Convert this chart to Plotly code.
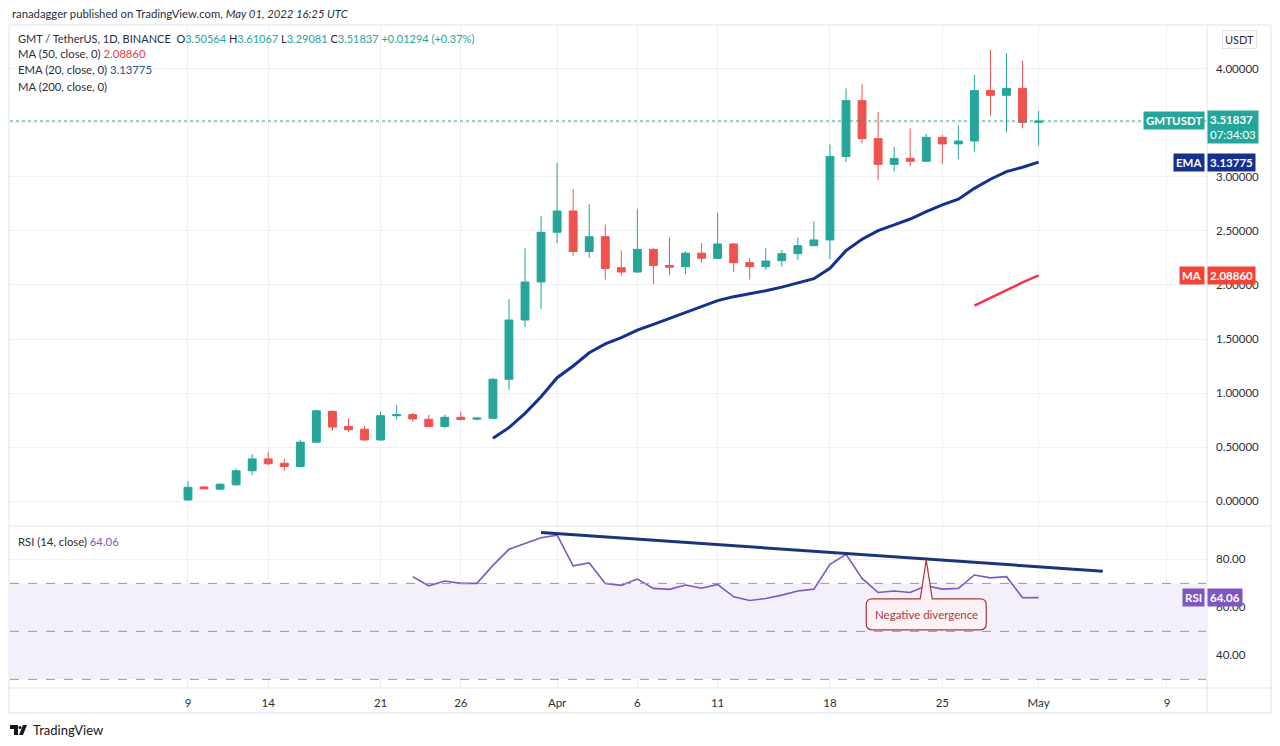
import pandas as pd
import plotly.graph_objects as go

# daily candles, GMT/USDT (Binance), 9 Mar - 1 May 2022
dates = pd.date_range("2022-03-09", "2022-05-01", freq="D")

opens = [0.01, 0.13, 0.11, 0.15, 0.28, 0.39, 0.35, 0.32, 0.545, 0.83, 0.69, 0.665,
         0.565, 0.79, 0.80, 0.757, 0.69, 0.775, 0.758, 0.766, 1.127, 1.676, 2.028,
         2.488, 2.685, 2.31, 2.447, 2.16, 2.12, 2.33, 2.18, 2.17, 2.295, 2.247, 2.38,
         2.207, 2.17, 2.225, 2.29, 2.364, 2.417, 3.19, 3.707, 3.355, 3.117, 3.173,
         3.145, 3.367, 3.306, 3.333, 3.80, 3.756, 3.82, 3.50564]
highs = [0.185, 0.14, 0.165, 0.30, 0.435, 0.457, 0.39, 0.565, 0.845, 0.84, 0.765, 0.695,
         0.83, 0.89, 0.815, 0.796, 0.80, 0.827, 0.78, 1.135, 1.868, 2.34, 2.64,
         3.13, 2.89, 2.75, 2.56, 2.32, 2.707, 2.34, 2.44, 2.31, 2.386, 2.67, 2.39,
         2.25, 2.34, 2.325, 2.44, 2.59, 3.30, 3.82, 3.86, 3.60, 3.28, 3.45,
         3.40, 3.39, 3.48, 3.947, 4.18, 4.145, 4.074, 3.61067]
lows = [0.0, 0.11, 0.10, 0.14, 0.24, 0.33, 0.28, 0.31, 0.54, 0.65, 0.64, 0.56,
        0.56, 0.755, 0.735, 0.685, 0.675, 0.745, 0.745, 0.76, 1.03, 1.61, 1.775,
        2.386, 2.27, 2.25, 2.05, 2.085, 2.11, 2.01, 2.09, 2.10, 2.207, 2.24, 2.12,
        2.05, 2.14, 2.17, 2.23, 2.36, 2.24, 3.136, 3.31, 2.97, 3.05, 3.10,
        3.14, 3.12, 3.164, 3.234, 3.565, 3.414, 3.45, 3.29081]
closes = [0.127, 0.112, 0.155, 0.28, 0.39, 0.345, 0.32, 0.545, 0.835, 0.685, 0.66, 0.565,
          0.79, 0.80, 0.76, 0.69, 0.775, 0.755, 0.768, 1.127, 1.676, 2.028, 2.488,
          2.685, 2.31, 2.447, 2.154, 2.12, 2.33, 2.18, 2.165, 2.295, 2.247, 2.38, 2.207,
          2.17, 2.222, 2.29, 2.364, 2.417, 3.19, 3.707, 3.355, 3.117, 3.17, 3.145,
          3.367, 3.306, 3.333, 3.80, 3.756, 3.82, 3.505, 3.51837]

ema_dates = dates[19:]  # EMA 20 from 28 Mar
ema20 = [0.58, 0.679, 0.812, 0.966, 1.142, 1.25, 1.373, 1.454, 1.512, 1.583, 1.636,
         1.691, 1.747, 1.799, 1.855, 1.892, 1.917, 1.947, 1.98, 2.021, 2.058, 2.154,
         2.318, 2.423, 2.503, 2.556, 2.611, 2.679, 2.741, 2.794, 2.895, 2.979, 3.05,
         3.09, 3.13775]

ma_dates = dates[49:]  # MA 50 from 27 Apr
ma50 = [1.81, 1.883, 1.957, 2.024, 2.0886]

rsi_dates = dates[14:]  # RSI 14 from 23 Mar
rsi = [72.8, 69.0, 71.0, 70.0, 70.0, 77.5, 84.2, 86.7, 89.0, 90.1, 77.3, 78.5, 70.0,
       69.2, 71.8, 67.9, 67.5, 69.3, 68.0, 69.6, 64.4, 62.9, 63.7, 65.1, 66.8, 67.6,
       77.9, 82.1, 72.1, 66.2, 66.8, 66.2, 69.0, 67.6, 67.9, 73.5, 72.3, 72.8, 64.0,
       64.06]

# hand drawn trendline on the RSI
trend_dates = ["2022-03-31", "2022-05-05"]
trend_vals = [91.2, 75.1]
divergence_date = "2022-04-24"
divergence_peak = 79.8

tick_dates = ["2022-03-09", "2022-03-14", "2022-03-21", "2022-03-26", "2022-04-01",
              "2022-04-06", "2022-04-11", "2022-04-18", "2022-04-25", "2022-05-01",
              "2022-05-09"]
tick_text = ["9", "14", "21", "26", "Apr", "6", "11", "18", "25", "May", "9"]
price_ticks = [0, 0.5, 1.0, 1.5, 2.0, 2.5, 3.0, 3.5, 4.0]
price_text = ["0.00000", "0.50000", "1.00000", "1.50000", "2.00000", "2.50000",
              "3.00000", "", "4.00000"]  # 3.5 sits under the price tag

UP = "#26a69a"
DOWN = "#ef5350"
EMA_C = "#15308f"
MA_C = "#f23645"
RSI_C = "#7e57c2"
GRID = "#eef0f4"
BORDER = "#e0e3eb"
TXT = "#2a2e39"
FONT = "Lato"

# page body has an 8px margin, so the figure is drawn 8px in from the corner
OFF = 8
W, H = 1264, 730
ML, MR, MT, MB = 2, 66, 17, 50
PW, PH = W - ML - MR, H - MT - MB

x_range = ["2022-02-25 21:50", "2022-05-11 10:20"]
price_range = [-0.222, 4.407]
rsi_range = [26.4, 93.5]


# helpers take positions in screen pixels
def px_x(p):
    return (p - OFF - ML) / PW


def px_y(p):
    return (H - MB - (p - OFF)) / PH


main_dom = [px_y(525), 1]
rsi_dom = [0, px_y(527)]


def date_px(d):
    t0 = pd.Timestamp(x_range[0]).value
    t1 = pd.Timestamp(x_range[1]).value
    return OFF + ML + (pd.Timestamp(d).value - t0) / (t1 - t0) * PW


def rsi_px(v):
    return 527 + (rsi_range[1] - v) / (rsi_range[1] - rsi_range[0]) * (688 - 527)


fig = go.Figure()

fig.add_trace(go.Candlestick(
    x=dates, open=opens, high=highs, low=lows, close=closes,
    increasing=dict(line=dict(color=UP, width=1), fillcolor=UP),
    decreasing=dict(line=dict(color=DOWN, width=1), fillcolor=DOWN),
    xaxis="x", yaxis="y", showlegend=False))
fig.add_trace(go.Scatter(x=ema_dates, y=ema20, mode="lines",
                         line=dict(color=EMA_C, width=3), xaxis="x", yaxis="y",
                         showlegend=False))
fig.add_trace(go.Scatter(x=ma_dates, y=ma50, mode="lines",
                         line=dict(color=MA_C, width=2.5), xaxis="x", yaxis="y",
                         showlegend=False))
fig.add_trace(go.Scatter(x=rsi_dates, y=rsi, mode="lines",
                         line=dict(color=RSI_C, width=1.6), xaxis="x2", yaxis="y2",
                         showlegend=False))
fig.add_trace(go.Scatter(x=trend_dates, y=trend_vals, mode="lines",
                         line=dict(color="#1b3678", width=3), xaxis="x2", yaxis="y2",
                         showlegend=False))

shapes = []
# RSI band + levels
shapes.append(dict(type="rect", xref="x2 domain", yref="y2", x0=0, x1=1, y0=30, y1=70,
                   fillcolor="rgba(126,87,194,0.09)", line=dict(width=0), layer="below"))
for lvl in [70, 50, 30]:
    shapes.append(dict(type="line", xref="x2 domain", yref="y2", x0=0, x1=1, y0=lvl, y1=lvl,
                       line=dict(color="#9598a1", width=1, dash="dash")))
# last price dotted line
shapes.append(dict(type="line", xref="x domain", yref="y", x0=0, x1=1,
                   y0=closes[-1], y1=closes[-1], line=dict(color=UP, width=1, dash="dot")))
# frame
shapes.append(dict(type="rect", xref="paper", yref="paper", x0=px_x(9), x1=px_x(1271),
                   y0=px_y(713), y1=px_y(25), line=dict(color=BORDER, width=1)))
shapes.append(dict(type="line", xref="paper", yref="paper", x0=px_x(1207), x1=px_x(1207),
                   y0=px_y(713), y1=px_y(25), line=dict(color=BORDER, width=1)))
for yy in [526, 688]:
    shapes.append(dict(type="line", xref="paper", yref="paper", x0=px_x(9), x1=px_x(1271),
                       y0=px_y(yy), y1=px_y(yy), line=dict(color=BORDER, width=1)))

# callout for the negative divergence
ax_, ay_ = date_px(divergence_date), rsi_px(divergence_peak)
bl, br, bt, bb, r = ax_ - 60, ax_ + 60, ay_ + 39, ay_ + 70, 6


def P(x, y):
    return f"{px_x(x):.5f},{px_y(y):.5f}"


path = (f"M {P(bl + r, bt)} L {P(ax_ - 6, bt)} L {P(ax_, ay_)} L {P(ax_ + 6, bt)} "
        f"L {P(br - r, bt)} Q {P(br, bt)} {P(br, bt + r)} L {P(br, bb - r)} "
        f"Q {P(br, bb)} {P(br - r, bb)} L {P(bl + r, bb)} Q {P(bl, bb)} {P(bl, bb - r)} "
        f"L {P(bl, bt + r)} Q {P(bl, bt)} {P(bl + r, bt)} Z")
shapes.append(dict(type="path", xref="paper", yref="paper", path=path,
                   fillcolor="rgba(253,242,244,0.92)", line=dict(color="#a83a3f", width=1.2)))

# TradingView logo glyph
shapes.append(dict(type="path", xref="paper", yref="paper",
                   path=f"M {P(10,725)} L {P(18,725)} L {P(18,735)} L {P(14,735)} L {P(14,729)} L {P(10,729)} Z",
                   fillcolor="#131722", line=dict(width=0)))
shapes.append(dict(type="circle", xref="paper", yref="paper", x0=px_x(18.5), x1=px_x(21.5),
                   y0=px_y(729), y1=px_y(726), fillcolor="#131722", line=dict(width=0)))
shapes.append(dict(type="path", xref="paper", yref="paper",
                   path=f"M {P(23,725)} L {P(27,725)} L {P(23,735)} L {P(19,735)} Z",
                   fillcolor="#131722", line=dict(width=0)))

ann = []


def text(x, y, s, size=11.3, color=TXT, xanchor="left"):
    ann.append(dict(xref="paper", yref="paper", x=px_x(x), y=px_y(y), text=s, showarrow=False,
                    xanchor=xanchor, yanchor="middle", font=dict(family=FONT, size=size, color=color)))


def span(s, c):
    return f"<span style='color:{c}'>{s}</span>"


text(10, 13, "ranadagger published on TradingView.com, <i>May 01, 2022 16:25 UTC</i>")
text(16, 38, "GMT / TetherUS, 1D, BINANCE  O" + span("3.50564", UP) + " H" + span("3.61067", UP)
     + " L" + span("3.29081", UP) + " C" + span("3.51837", UP) + " " + span("+0.01294 (+0.37%)", UP),
     size=11)
text(16, 54, "MA (50, close, 0) " + span("2.08860", MA_C))
text(16, 70, "EMA (20, close, 0) " + span("3.13775", "#2a4ba0"))
text(16, 86, "MA (200, close, 0)")
text(16, 541, "RSI (14, close) " + span("64.06", RSI_C))
text(31, 730, "TradingView", size=13, color="#131722")


def tag(yref, y, s, bg, xanchor, x, yshift=0):
    ann.append(dict(xref="paper", yref=yref, x=px_x(x), y=y, text=s, showarrow=False,
                    xanchor=xanchor, yanchor="middle", yshift=yshift, bgcolor=bg,
                    borderpad=2, align="left",
                    font=dict(family=FONT, size=11.5, color="white")))


tag("y", closes[-1], "<b>GMTUSDT</b>", UP, "right", 1205)
tag("y", closes[-1], "<b>3.51837</b><br>07:34:03", UP, "left", 1207, yshift=-6)
tag("y", ema20[-1], "<b>EMA</b>", EMA_C, "right", 1205)
tag("y", ema20[-1], "<b>3.13775</b>", EMA_C, "left", 1207)
tag("y", ma50[-1], "<b>MA</b>", "#f44336", "right", 1205)
tag("y", ma50[-1], "<b>2.08860</b>", "#f44336", "left", 1207)
tag("y2", rsi[-1], "<b>RSI</b>", RSI_C, "right", 1205)
tag("y2", rsi[-1], "<b>64.06</b>", RSI_C, "left", 1207)

ann.append(dict(xref="paper", yref="paper", x=px_x(1239), y=px_y(39), text="USDT",
                xanchor="center", yanchor="middle",
                showarrow=False, bgcolor="white", bordercolor=BORDER, borderwidth=1, borderpad=2,
                font=dict(family=FONT, size=11, color=TXT)))
ann.append(dict(xref="paper", yref="paper", x=px_x(ax_), y=px_y((bt + bb) / 2),
                xanchor="center", yanchor="middle",
                text="Negative divergence", showarrow=False,
                font=dict(family=FONT, size=11.5, color="#a83a3f")))

fig.update_layout(
    width=W, height=H,
    margin=dict(l=ML, r=MR, t=MT, b=MB),
    paper_bgcolor="white", plot_bgcolor="white",
    font=dict(family=FONT, size=12, color=TXT),
    shapes=shapes, annotations=ann,
    xaxis=dict(domain=[0, 1], anchor="y", range=x_range, matches="x2",
               rangeslider=dict(visible=False), showticklabels=False,
               tickvals=tick_dates, showgrid=True, gridcolor=GRID, zeroline=False),
    yaxis=dict(domain=main_dom, anchor="x", side="right", range=price_range,
               tickvals=price_ticks, ticktext=price_text, showgrid=True, gridcolor=GRID,
               zeroline=False, ticklabelstandoff=9, tickfont=dict(size=11.5, color=TXT)),
    xaxis2=dict(domain=[0, 1], anchor="y2", range=x_range, tickvals=tick_dates,
                ticktext=tick_text, showgrid=True, gridcolor=GRID, zeroline=False,
                ticklabelstandoff=6, tickfont=dict(size=11.5, color=TXT)),
    yaxis2=dict(domain=rsi_dom, anchor="x2", side="right", range=rsi_range,
                tickvals=[40, 60, 80], tickformat=".2f", showgrid=True, gridcolor=GRID,
                zeroline=False, ticklabelstandoff=9, tickfont=dict(size=11.5, color=TXT)),
)

fig.write_html("out.html")
